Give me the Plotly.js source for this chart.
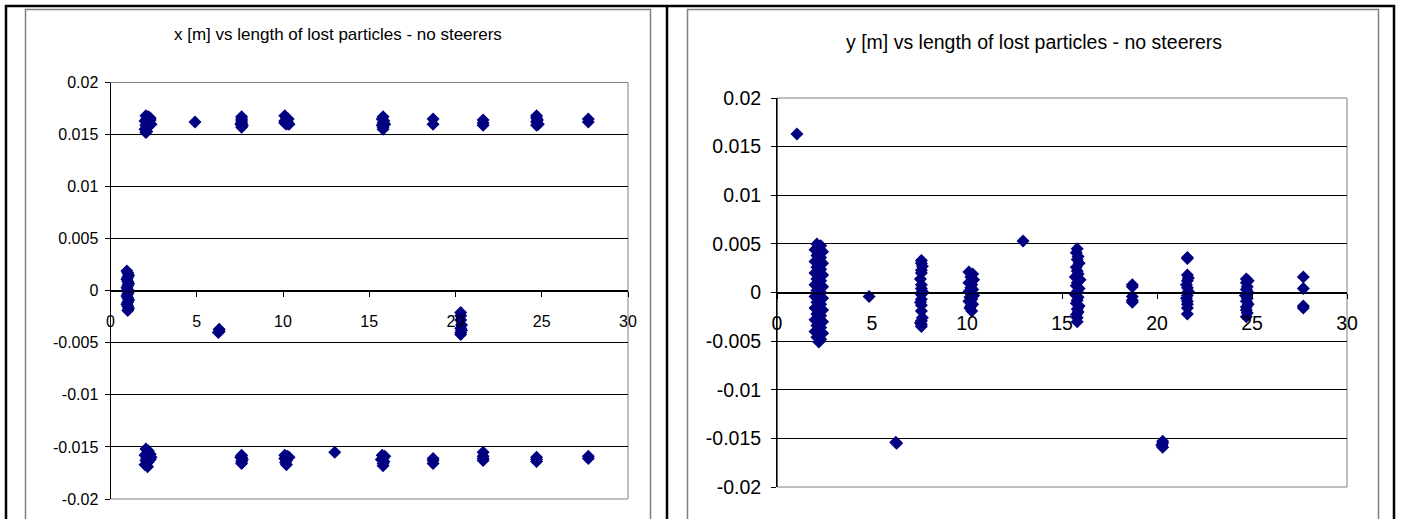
<!DOCTYPE html>
<html>
<head>
<meta charset="utf-8">
<script src="https://cdn.plot.ly/plotly-3.0.1.min.js"></script>
<style>
html,body{margin:0;padding:0;background:#fff;}
#chart{width:1402px;height:519px;}
</style>
</head>
<body>
<div id="chart"></div>
<script>
// ---------- DATA ----------
const titleLeft = "x [m] vs length of lost particles - no steerers";
const titleRight = "y [m] vs length of lost particles - no steerers";

const xTickVals = [0, 5, 10, 15, 20, 25, 30];
const xTickText = ["0", "5", "10", "15", "20", "25", "30"];
const yTickVals = [0.02, 0.015, 0.01, 0.005, 0, -0.005, -0.01, -0.015, -0.02];
const yTickText = ["0.02", "0.015", "0.01", "0.005", "0", "-0.005", "-0.01", "-0.015", "-0.02"];

// Left chart: length of lost particles [m] vs x [m]
const leftLength = [
  0.95,1.0,1.05,1.0,0.95,1.0,1.05,1.0,0.95,1.0,1.05,1.0,0.95,1.0,1.05,1.0,0.95,1.0,1.05,1.0,1.0,
  2.05,2.2,2.1,2.3,2.0,2.2,2.1,2.3,2.05,2.2,2.1,2.0,2.1,2.05,2.3,2.35,
  2.05,2.2,2.1,2.3,2.0,2.2,2.1,2.35,2.05,2.2,2.1,2.0,2.15,2.3,
  4.9,
  6.3,6.3,6.25,
  7.6,7.6,7.6,7.6,7.65,7.6,7.55,
  7.6,7.6,7.65,7.6,7.6,7.55,
  10.1,10.2,10.3,10.1,10.25,10.2,10.35,10.1,
  10.1,10.25,10.35,10.1,10.2,10.15,10.2,
  13.0,
  15.8,15.75,15.85,15.8,15.9,15.75,15.8,15.8,
  15.75,15.9,15.8,15.7,15.85,15.8,15.8,
  18.7,18.7,
  18.7,18.7,18.7,
  20.3,20.3,20.3,20.35,20.3,20.35,20.3,20.3,
  21.6,21.6,21.6,
  21.6,21.6,21.6,21.6,
  24.7,24.7,24.75,24.7,24.8,24.7,
  24.7,24.7,24.7,
  27.7,27.7,27.7,27.7
];
const leftX = [
  0.0019,0.0017,0.0015,0.0013,0.0011,0.0009,0.0007,0.0005,0.0003,0.0001,-0.0001,-0.0003,-0.0005,-0.0007,-0.0009,-0.0011,-0.0013,-0.0015,-0.0017,-0.0019,0.0000,
  0.0168,0.0167,0.0165,0.0164,0.0163,0.0162,0.0161,0.0160,0.0159,0.0158,0.0157,0.0155,0.0153,0.0152,0.0166,0.0160,
  -0.0152,-0.0154,-0.0156,-0.0157,-0.0158,-0.0160,-0.0161,-0.0160,-0.0163,-0.0164,-0.0166,-0.0167,-0.0169,-0.0162,
  0.0162,
  -0.0037,-0.0039,-0.0040,
  0.0167,0.0165,0.0163,0.0161,0.0159,0.0157,0.0160,
  -0.0158,-0.0160,-0.0162,-0.0164,-0.0166,-0.0160,
  0.0168,0.0166,0.0165,0.0163,0.0162,0.0160,0.0160,0.0161,
  -0.0158,-0.0159,-0.0160,-0.0161,-0.0163,-0.0165,-0.0167,
  -0.0155,
  0.0167,0.0165,0.0163,0.0161,0.0160,0.0159,0.0157,0.0155,
  -0.0158,-0.0159,-0.0161,-0.0162,-0.0164,-0.0166,-0.0168,
  0.0165,0.0160,
  -0.0161,-0.0163,-0.0166,
  -0.0021,-0.0024,-0.0028,-0.0033,-0.0036,-0.0038,-0.0040,-0.0042,
  0.0164,0.0161,0.0159,
  -0.0155,-0.0159,-0.0161,-0.0163,
  0.0168,0.0166,0.0164,0.0162,0.0160,0.0159,
  -0.0160,-0.0162,-0.0164,
  0.0165,0.0162,-0.0159,-0.0161
];

// Right chart: length of lost particles [m] vs y [m]
const rightLength = [
  1.05,
  2.1,2.3,2.2,2.0,2.4,2.2,2.1,2.3,2.2,2.0,2.4,2.2,2.1,2.3,2.2,2.0,2.4,2.2,2.1,2.3,2.2,2.0,2.4,2.2,2.1,2.3,
  2.2,2.0,2.4,2.2,2.1,2.3,2.2,2.0,2.4,2.2,2.1,2.3,2.2,2.0,2.4,2.2,2.1,2.3,2.2,2.0,2.4,2.2,2.1,2.3,2.2,
  4.85,
  6.25,6.3,
  7.6,7.6,7.65,7.6,7.6,7.55,7.6,7.6,7.65,7.6,7.6,7.55,7.6,7.6,7.65,7.6,7.55,7.6,7.6,
  10.1,10.3,10.2,10.35,10.1,10.25,10.2,10.3,10.1,10.2,10.35,10.15,10.25,10.1,10.3,10.2,10.15,10.25,
  15.8,15.75,15.85,15.8,15.9,15.75,15.8,15.85,15.7,15.95,15.8,15.75,15.9,15.8,15.7,15.85,15.8,15.75,15.9,15.8,15.85,15.75,15.8,15.8,
  12.95,
  18.7,18.7,18.7,18.7,18.7,
  20.3,20.3,20.25,20.3,
  21.6,21.6,21.6,21.65,21.6,21.55,21.6,21.65,21.6,21.55,21.6,21.6,21.6,21.6,
  24.7,24.8,24.7,24.75,24.7,24.8,24.65,24.75,24.7,24.8,24.7,24.7,24.75,24.7,
  27.7,27.7,27.7,27.7
];
const rightY = [
  0.0163,
  0.0050,0.0048,0.0046,0.0044,0.0042,0.0040,0.0038,0.0036,0.0034,0.0032,0.0030,0.0028,0.0026,0.0024,0.0022,0.0020,0.0018,0.0016,0.0014,0.0012,0.0010,0.0008,0.0006,0.0004,0.0002,0.0000,
  -0.0002,-0.0004,-0.0006,-0.0008,-0.0010,-0.0012,-0.0014,-0.0016,-0.0018,-0.0020,-0.0022,-0.0024,-0.0026,-0.0028,-0.0030,-0.0032,-0.0034,-0.0036,-0.0038,-0.0040,-0.0042,-0.0044,-0.0046,-0.0048,-0.0051,
  -0.0004,
  -0.0154,-0.0155,
  0.0033,0.0030,0.0027,0.0023,0.0020,0.0014,0.0008,0.0004,0.0001,-0.0002,-0.0007,-0.0010,-0.0013,-0.0019,-0.0026,-0.0029,-0.0031,-0.0033,-0.0035,
  0.0021,0.0019,0.0016,0.0013,0.0010,0.0008,0.0005,0.0003,0.0001,-0.0001,-0.0003,-0.0005,-0.0007,-0.0009,-0.0012,-0.0014,-0.0016,-0.0019,
  0.0045,0.0041,0.0037,0.0034,0.0030,0.0026,0.0022,0.0019,0.0016,0.0013,0.0010,0.0007,0.0004,0.0001,-0.0002,-0.0005,-0.0008,-0.0011,-0.0014,-0.0017,-0.0020,-0.0023,-0.0026,-0.0030,
  0.0053,
  0.0008,0.0006,-0.0004,-0.0008,-0.0010,
  -0.0153,-0.0155,-0.0157,-0.0159,
  0.0036,0.0035,0.0018,0.0015,0.0012,0.0008,0.0005,0.0001,-0.0003,-0.0006,-0.0009,-0.0012,-0.0016,-0.0022,
  0.0014,0.0012,0.0010,0.0006,0.0003,0.0000,-0.0003,-0.0006,-0.0009,-0.0012,-0.0015,-0.0018,-0.0021,-0.0025,
  0.0016,0.0004,-0.0014,-0.0016
];

// ---------- LAYOUT ----------
const W = 1402, H = 519;
const px = v => v / W;
const py = v => 1 - v / H;

const L = {x0: 110.5, x1: 628, yTop: 82.5, yBot: 499};
const R = {x0: 777, x1: 1347, yTop: 98, yBot: 487};

const markerStyle = {symbol: 'diamond', size: 10, color: '#000080', line: {width: 0}};
const fontFam = '"Liberation Sans", Arial, sans-serif';

const traces = [
  {x: leftLength, y: leftX, type: 'scatter', mode: 'markers', marker: markerStyle, xaxis: 'x', yaxis: 'y', hoverinfo: 'x+y'},
  {x: rightLength, y: rightY, type: 'scatter', mode: 'markers', marker: markerStyle, xaxis: 'x2', yaxis: 'y2', hoverinfo: 'x+y'}
];

function xAxisCfg(dom, yDomMid, fs, standoff) {
  return {
    domain: dom, range: [0, 30], tickvals: xTickVals, ticktext: xTickText,
    showgrid: false, zeroline: false, showline: true, linecolor: '#000', linewidth: 1,
    ticks: 'outside', ticklen: 5, tickcolor: '#000', anchor: 'free', position: yDomMid,
    tickfont: {family: fontFam, size: fs, color: '#000'}, ticklabelstandoff: standoff, fixedrange: true
  };
}
function yAxisCfg(dom, anchorX, fs, standoff) {
  return {
    domain: dom, range: [-0.02, 0.02], tickvals: yTickVals, ticktext: yTickText,
    showgrid: true, gridcolor: '#000', gridwidth: 1, zeroline: false,
    showline: true, linecolor: '#000', linewidth: 1, ticks: 'outside', ticklen: 5, tickcolor: '#000',
    anchor: anchorX, tickfont: {family: fontFam, size: fs, color: '#000'}, ticklabelstandoff: standoff, fixedrange: true
  };
}

const lyDom = [py(L.yBot), py(L.yTop)];
const ryDom = [py(R.yBot), py(R.yTop)];

const grey = '#808080';
const shapes = [
  // outer black frame
  {type: 'line', xref: 'paper', yref: 'paper', x0: px(5), x1: px(1395), y0: py(6), y1: py(6), line: {color: '#000', width: 2.5}},
  {type: 'line', xref: 'paper', yref: 'paper', x0: px(6), x1: px(6), y0: py(5), y1: py(520), line: {color: '#000', width: 2.5}},
  {type: 'line', xref: 'paper', yref: 'paper', x0: px(667), x1: px(667), y0: py(5), y1: py(520), line: {color: '#000', width: 2.5}},
  {type: 'line', xref: 'paper', yref: 'paper', x0: px(1394), x1: px(1394), y0: py(5), y1: py(520), line: {color: '#000', width: 2.5}},
  // chart area borders
  {type: 'rect', xref: 'paper', yref: 'paper', x0: px(25.5), x1: px(650.5), y0: py(9.5), y1: py(530), line: {color: grey, width: 1.5}},
  {type: 'rect', xref: 'paper', yref: 'paper', x0: px(687.5), x1: px(1378.5), y0: py(9.5), y1: py(530), line: {color: grey, width: 1.5}},
  // plot area borders
  {type: 'rect', xref: 'paper', yref: 'paper', x0: px(L.x0), x1: px(L.x1), y0: py(L.yBot), y1: py(L.yTop), line: {color: grey, width: 1}},
  {type: 'rect', xref: 'paper', yref: 'paper', x0: px(R.x0), x1: px(R.x1), y0: py(R.yBot), y1: py(R.yTop), line: {color: grey, width: 1}},
  {type: 'line', xref: 'paper', yref: 'paper', x0: px(L.x0), x1: px(L.x0), y0: py(L.yBot), y1: py(L.yTop), line: {color: '#000', width: 1}},
  {type: 'line', xref: 'paper', yref: 'paper', x0: px(R.x0), x1: px(R.x0), y0: py(R.yBot), y1: py(R.yTop), line: {color: '#000', width: 1}}
];
shapes.forEach(s => { if (!s.layer) s.layer = 'below'; });

const layout = {
  width: W, height: H,
  margin: {l: 0, r: 0, t: 0, b: 0, pad: 0},
  paper_bgcolor: '#fff', plot_bgcolor: 'rgba(0,0,0,0)',
  showlegend: false,
  xaxis: xAxisCfg([px(L.x0), px(L.x1)], (lyDom[0] + lyDom[1]) / 2, 16, 11),
  yaxis: yAxisCfg(lyDom, 'x', 16, 3),
  xaxis2: xAxisCfg([px(R.x0), px(R.x1)], (ryDom[0] + ryDom[1]) / 2, 19.5, 8),
  yaxis2: yAxisCfg(ryDom, 'x2', 19.5, 6),
  shapes: shapes,
  annotations: [
    {text: titleLeft, xref: 'paper', yref: 'paper', x: px(338), y: py(35), xanchor: 'center', yanchor: 'middle', showarrow: false,
     font: {family: fontFam, size: 17, color: '#000'}},
    {text: titleRight, xref: 'paper', yref: 'paper', x: px(1034), y: py(42), xanchor: 'center', yanchor: 'middle', showarrow: false,
     font: {family: fontFam, size: 19.5, color: '#000'}}
  ]
};

Plotly.newPlot('chart', traces, layout, {displayModeBar: false, staticPlot: true});
</script>
</body>
</html>
